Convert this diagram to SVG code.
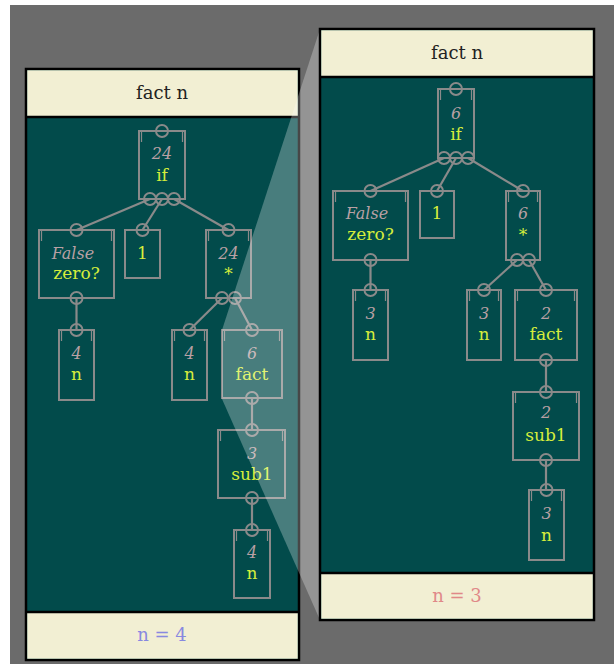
<svg xmlns="http://www.w3.org/2000/svg" width="614" height="664" viewBox="0 0 614 664">
<style>
.bg{fill:#6b6b6b}
.panel{fill:#024b4b;stroke:#000;stroke-width:2.5}
.cream{fill:#f2efd3}
.sep{stroke:#000;stroke-width:2.5}
.box{fill:none;stroke:#8a8a8a;stroke-width:2}
.tick{stroke:#8a8a8a;stroke-width:1.2}
.port{fill:none;stroke:#8a8a8a;stroke-width:2}
.edge{stroke:#8a8a8a;stroke-width:2.2;fill:none}
.hd{font-family:"DejaVu Serif","Liberation Serif",serif;font-size:18px;fill:#222;text-anchor:middle}
.val{font-family:"DejaVu Serif","Liberation Serif",serif;font-style:italic;font-size:16px;fill:#b8a0a4;text-anchor:middle}
.op{font-family:"DejaVu Serif","Liberation Serif",serif;font-size:17px;fill:#d6ee3c;text-anchor:middle}
.ft{font-family:"DejaVu Serif","Liberation Serif",serif;font-size:18px;text-anchor:middle}
.wedge{fill:#fff;fill-opacity:0.28}
</style>
<rect class="bg" x="10" y="5" width="604" height="659"/>

<g id="panel-left">
<rect class="panel" x="26" y="69" width="273" height="591"/>
<rect class="cream" x="27.25" y="70.25" width="270.5" height="46"/>
<line class="sep" x1="26" y1="117" x2="299" y2="117"/>
<rect class="cream" x="27.25" y="612" width="270.5" height="46.75"/>
<line class="sep" x1="26" y1="612" x2="299" y2="612"/>
<text class="hd" x="162" y="99">fact n</text>
<text class="ft" x="162" y="641" fill="#8888e0">n = 4</text>
</g>

<g id="connectors-left">
<line class="edge" x1="150" y1="199" x2="76.5" y2="230"/>
<line class="edge" x1="162" y1="199" x2="142.5" y2="230"/>
<line class="edge" x1="174" y1="199" x2="228.5" y2="230"/>
<line class="edge" x1="76.5" y1="298" x2="76.5" y2="330"/>
<line class="edge" x1="222" y1="298" x2="189.5" y2="330"/>
<line class="edge" x1="235" y1="298" x2="252" y2="330"/>
<line class="edge" x1="252" y1="398" x2="252" y2="430"/>
<line class="edge" x1="252" y1="498" x2="252" y2="530"/>
</g>

<g id="L-if">
<rect class="box" x="139" y="131" width="46" height="68"/>
<line class="tick" x1="141.5" y1="131" x2="141.5" y2="142"/><line class="tick" x1="182.5" y1="131" x2="182.5" y2="142"/>
<circle class="port" cx="162" cy="131" r="6"/>
<circle class="port" cx="150" cy="199" r="6"/><circle class="port" cx="162" cy="199" r="6"/><circle class="port" cx="174" cy="199" r="6"/>
<text class="val" x="162" y="159">24</text><text class="op" x="162" y="181">if</text>
</g>
<g id="L-zero">
<rect class="box" x="39" y="230" width="75" height="68"/>
<line class="tick" x1="41.5" y1="230" x2="41.5" y2="241"/><line class="tick" x1="111.5" y1="230" x2="111.5" y2="241"/>
<circle class="port" cx="76.5" cy="230" r="6"/><circle class="port" cx="76.5" cy="298" r="6"/>
<text class="val" x="73" y="259">False</text><text class="op" x="76.5" y="279">zero?</text>
</g>
<g id="L-one">
<rect class="box" x="125" y="230" width="35" height="48"/>
<circle class="port" cx="142.5" cy="230" r="6"/>
<text class="op" x="142.5" y="259">1</text>
</g>
<g id="L-mul">
<rect class="box" x="206" y="230" width="45" height="68"/>
<line class="tick" x1="208.5" y1="230" x2="208.5" y2="241"/><line class="tick" x1="248.5" y1="230" x2="248.5" y2="241"/>
<circle class="port" cx="228.5" cy="230" r="6"/>
<circle class="port" cx="222" cy="298" r="6"/><circle class="port" cx="235" cy="298" r="6"/>
<text class="val" x="228.5" y="259">24</text><text class="op" x="228.5" y="280">*</text>
</g>
<g id="L-n1">
<rect class="box" x="59" y="330" width="35" height="70"/>
<line class="tick" x1="61.5" y1="330" x2="61.5" y2="341"/><line class="tick" x1="91.5" y1="330" x2="91.5" y2="341"/>
<circle class="port" cx="76.5" cy="330" r="6"/>
<text class="val" x="76.5" y="359">4</text><text class="op" x="76.5" y="380">n</text>
</g>
<g id="L-n2">
<rect class="box" x="172" y="330" width="35" height="70"/>
<line class="tick" x1="174.5" y1="330" x2="174.5" y2="341"/><line class="tick" x1="204.5" y1="330" x2="204.5" y2="341"/>
<circle class="port" cx="189.5" cy="330" r="6"/>
<text class="val" x="189.5" y="359">4</text><text class="op" x="189.5" y="380">n</text>
</g>
<g id="L-fact">
<rect class="box" x="222" y="330" width="60" height="68"/>
<line class="tick" x1="224.5" y1="330" x2="224.5" y2="341"/><line class="tick" x1="279.5" y1="330" x2="279.5" y2="341"/>
<circle class="port" cx="252" cy="330" r="6"/><circle class="port" cx="252" cy="398" r="6"/>
<text class="val" x="252" y="359">6</text><text class="op" x="252" y="380">fact</text>
</g>
<g id="L-sub1">
<rect class="box" x="218" y="430" width="67" height="68"/>
<line class="tick" x1="220.5" y1="430" x2="220.5" y2="441"/><line class="tick" x1="282.5" y1="430" x2="282.5" y2="441"/>
<circle class="port" cx="252" cy="430" r="6"/><circle class="port" cx="252" cy="498" r="6"/>
<text class="val" x="252" y="459">3</text><text class="op" x="252" y="480">sub1</text>
</g>
<g id="L-n3">
<rect class="box" x="234" y="530" width="36" height="68"/>
<line class="tick" x1="236.5" y1="530" x2="236.5" y2="541"/><line class="tick" x1="267.5" y1="530" x2="267.5" y2="541"/>
<circle class="port" cx="252" cy="530" r="6"/>
<text class="val" x="252" y="558">4</text><text class="op" x="252" y="579">n</text>
</g>

<polygon class="wedge" points="222,330 320,29 320,620 222,399"/>

<g id="panel-right">
<rect class="panel" x="320" y="29" width="274" height="591"/>
<rect class="cream" x="321.25" y="30.25" width="271.5" height="46"/>
<line class="sep" x1="320" y1="77" x2="594" y2="77"/>
<rect class="cream" x="321.25" y="573" width="271.5" height="45.75"/>
<line class="sep" x1="320" y1="573" x2="594" y2="573"/>
<text class="hd" x="457" y="59">fact n</text>
<text class="ft" x="457" y="602" fill="#e08888">n = 3</text>
</g>

<g id="connectors-right">
<line class="edge" x1="444" y1="158" x2="370.5" y2="191"/>
<line class="edge" x1="456" y1="158" x2="437" y2="191"/>
<line class="edge" x1="468" y1="158" x2="523" y2="191"/>
<line class="edge" x1="370.5" y1="260" x2="370.5" y2="290"/>
<line class="edge" x1="517" y1="260" x2="484" y2="290"/>
<line class="edge" x1="529" y1="260" x2="546" y2="290"/>
<line class="edge" x1="546" y1="360" x2="546" y2="392"/>
<line class="edge" x1="546" y1="460" x2="546" y2="490"/>
</g>

<g id="R-if">
<rect class="box" x="438" y="89" width="36" height="69"/>
<line class="tick" x1="440.5" y1="89" x2="440.5" y2="100"/><line class="tick" x1="471.5" y1="89" x2="471.5" y2="100"/>
<circle class="port" cx="456" cy="89" r="6"/>
<circle class="port" cx="444" cy="158" r="6"/><circle class="port" cx="456" cy="158" r="6"/><circle class="port" cx="468" cy="158" r="6"/>
<text class="val" x="456" y="119">6</text><text class="op" x="456" y="140">if</text>
</g>
<g id="R-zero">
<rect class="box" x="333" y="191" width="75" height="69"/>
<line class="tick" x1="335.5" y1="191" x2="335.5" y2="202"/><line class="tick" x1="405.5" y1="191" x2="405.5" y2="202"/>
<circle class="port" cx="370.5" cy="191" r="6"/><circle class="port" cx="370.5" cy="260" r="6"/>
<text class="val" x="367" y="219">False</text><text class="op" x="370.5" y="240">zero?</text>
</g>
<g id="R-one">
<rect class="box" x="420" y="191" width="34" height="47"/>
<circle class="port" cx="437" cy="191" r="6"/>
<text class="op" x="437" y="219">1</text>
</g>
<g id="R-mul">
<rect class="box" x="506" y="191" width="34" height="69"/>
<line class="tick" x1="508.5" y1="191" x2="508.5" y2="202"/><line class="tick" x1="537.5" y1="191" x2="537.5" y2="202"/>
<circle class="port" cx="523" cy="191" r="6"/>
<circle class="port" cx="517" cy="260" r="6"/><circle class="port" cx="529" cy="260" r="6"/>
<text class="val" x="523" y="219">6</text><text class="op" x="523" y="241">*</text>
</g>
<g id="R-n1">
<rect class="box" x="353" y="290" width="35" height="70"/>
<line class="tick" x1="355.5" y1="290" x2="355.5" y2="301"/><line class="tick" x1="385.5" y1="290" x2="385.5" y2="301"/>
<circle class="port" cx="370.5" cy="290" r="6"/>
<text class="val" x="370.5" y="319">3</text><text class="op" x="370.5" y="340">n</text>
</g>
<g id="R-n2">
<rect class="box" x="467" y="290" width="34" height="70"/>
<line class="tick" x1="469.5" y1="290" x2="469.5" y2="301"/><line class="tick" x1="498.5" y1="290" x2="498.5" y2="301"/>
<circle class="port" cx="484" cy="290" r="6"/>
<text class="val" x="484" y="319">3</text><text class="op" x="484" y="340">n</text>
</g>
<g id="R-fact">
<rect class="box" x="515" y="290" width="62" height="70"/>
<line class="tick" x1="517.5" y1="290" x2="517.5" y2="301"/><line class="tick" x1="574.5" y1="290" x2="574.5" y2="301"/>
<circle class="port" cx="546" cy="290" r="6"/><circle class="port" cx="546" cy="360" r="6"/>
<text class="val" x="546" y="319">2</text><text class="op" x="546" y="340">fact</text>
</g>
<g id="R-sub1">
<rect class="box" x="513" y="392" width="66" height="68"/>
<line class="tick" x1="515.5" y1="392" x2="515.5" y2="403"/><line class="tick" x1="576.5" y1="392" x2="576.5" y2="403"/>
<circle class="port" cx="546" cy="392" r="6"/><circle class="port" cx="546" cy="460" r="6"/>
<text class="val" x="546" y="418">2</text><text class="op" x="546" y="441">sub1</text>
</g>
<g id="R-n3">
<rect class="box" x="529" y="490" width="35" height="70"/>
<line class="tick" x1="531.5" y1="490" x2="531.5" y2="501"/><line class="tick" x1="561.5" y1="490" x2="561.5" y2="501"/>
<circle class="port" cx="546.5" cy="490" r="6"/>
<text class="val" x="546.5" y="519">3</text><text class="op" x="546.5" y="541">n</text>
</g>
</svg>
